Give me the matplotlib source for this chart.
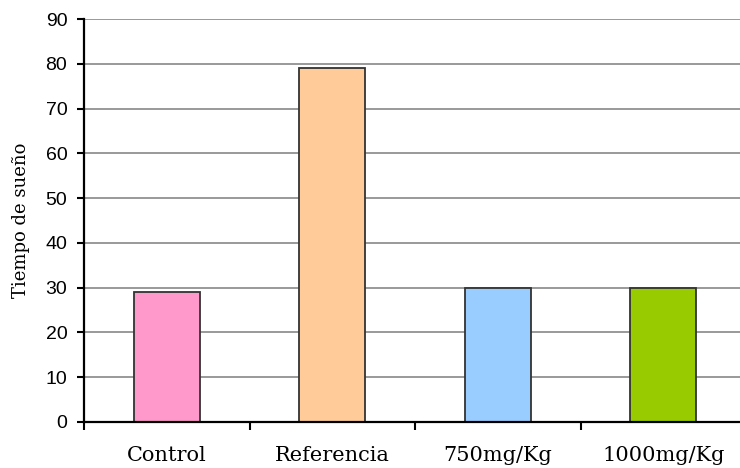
import matplotlib
matplotlib.use("Agg")
import matplotlib.pyplot as plt

# sleep time per treatment group
groups = ["Control", "Referencia", "750mg/Kg", "1000mg/Kg"]
sleep_time = [29, 79, 30, 30]
colors = ["#FF99CC", "#FFCC99", "#99CCFF", "#99CC00"]

fig = plt.figure(figsize=(7.4, 4.68), dpi=100)
ax = fig.add_axes([84 / 740, 1 - 422 / 468, 662 / 740, 403 / 468])

pos = range(len(groups))
ax.bar(pos, sleep_time, width=0.4, color=colors, edgecolor="#333333",
       linewidth=1.3, zorder=3)

ax.set_xlim(-0.5, len(groups) - 0.5)
ax.set_ylim(0, 90)
ax.set_yticks(range(0, 91, 10))
ax.yaxis.grid(True, color="#999999", linewidth=1.4, zorder=0)

# category ticks sit between the bars, labels centred under them
ax.set_xticks([i - 0.5 for i in range(len(groups) + 1)])
ax.set_xticklabels([])
ax.set_xticks(list(pos), minor=True)
ax.set_xticklabels(groups, minor=True, fontsize=15, family="DejaVu Serif")
ax.tick_params(axis="x", which="minor", length=0, pad=17)
ax.tick_params(axis="x", which="major", length=6, width=1.5, direction="out")
ax.tick_params(axis="y", length=5, width=1.5, direction="out", pad=7)
for lbl in ax.get_yticklabels():
    lbl.set_fontsize(14)
    lbl.set_family("Liberation Sans")

for side in ["top", "right"]:
    ax.spines[side].set_visible(False)
for side in ["left", "bottom"]:
    ax.spines[side].set_linewidth(1.6)
    ax.spines[side].set_zorder(4)

ax.set_ylabel("Tiempo de sueño", fontsize=13, family="DejaVu Serif")
ax.yaxis.set_label_coords(-54 / 662, 0.5)

fig.savefig("out.png", dpi=100)
